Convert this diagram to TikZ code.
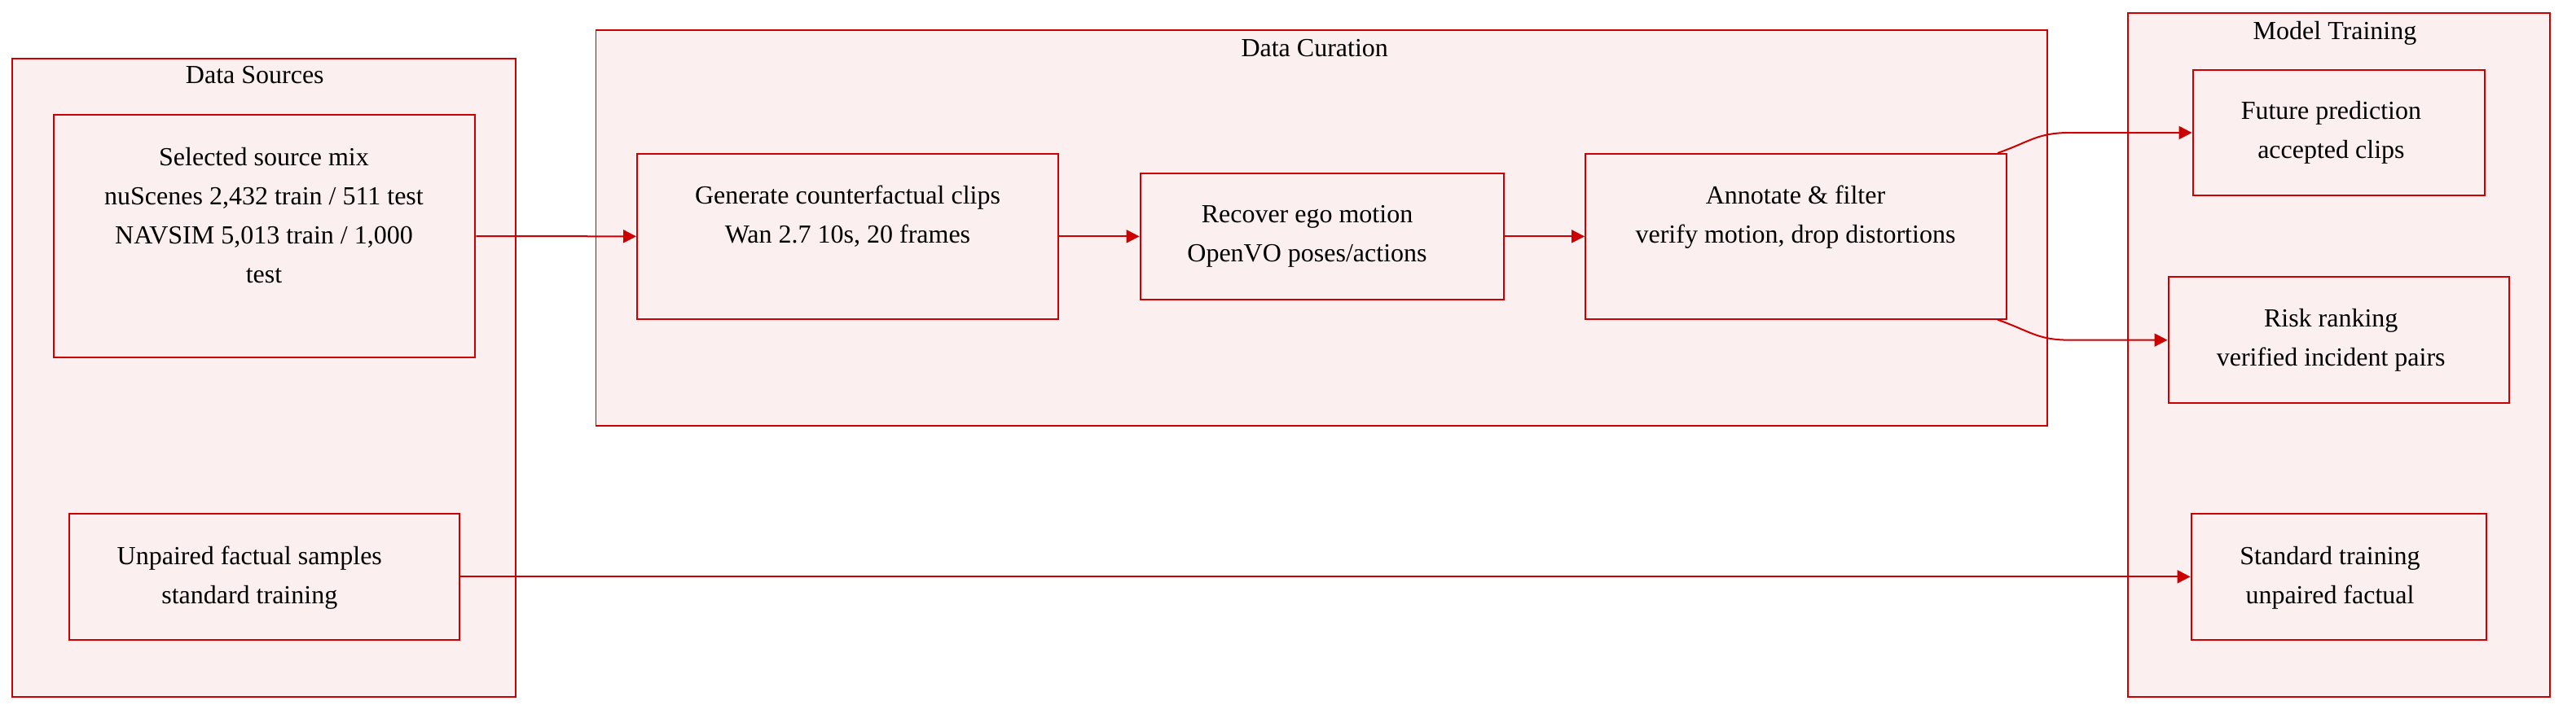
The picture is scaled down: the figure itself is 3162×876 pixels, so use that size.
\documentclass[tikz,border=0pt]{standalone}
\usepackage{fontspec}
\setmainfont{Liberation Serif}
\usetikzlibrary{arrows.meta}
\definecolor{boxred}{HTML}{CC0000}
\definecolor{boxfill}{HTML}{FCEFEF}
\tikzset{
  cluster/.style={draw=boxred, fill=boxfill, line width=1.8pt, inner sep=0pt, rectangle},
  stepbox/.style={draw=boxred, fill=boxfill, line width=2pt, inner sep=0pt, rectangle},
  txt/.style={inner sep=0pt, align=center, text=black, font=\fontsize{32}{48}\selectfont},
  edge/.style={draw=boxred, line width=2pt, -{Triangle[length=16pt,width=16pt]}},
}
\newcommand{\sline}{\strut}
\begin{document}
\begin{tikzpicture}[x=1pt,y=-1pt]
\useasboundingbox (0,0) rectangle (3162,876);
% clusters
\node[cluster, minimum width=617.7pt, minimum height=784pt] (ds) at (324.15,463.7) {};
\node[cluster, minimum width=1781.5pt, minimum height=485.4pt] (dc) at (1622.25,280) {};
\node[cluster, minimum width=518.1pt, minimum height=840pt] (mt) at (2870.95,435.7) {};
\node[txt] (dst) at (312.8,93.1) {\sline Data Sources};
\node[txt] (dct) at (1613.7,59.4) {\sline Data Curation};
\node[txt] (mtt) at (2866,38.7) {\sline Model Training};
% boxes
\node[stepbox, minimum width=517.8pt, minimum height=298.6pt] (sel) at (324.4,290) {};
\node[stepbox, minimum width=479.3pt, minimum height=155.3pt] (unp) at (324.65,708.35) {};
\node[stepbox, minimum width=516.6pt, minimum height=202.7pt] (gen) at (1040.3,290.35) {};
\node[stepbox, minimum width=446.4pt, minimum height=155.3pt] (rec) at (1622.8,290.35) {};
\node[stepbox, minimum width=516.6pt, minimum height=202.7pt] (ann) at (2204.3,290.35) {};
\node[stepbox, minimum width=358.6pt, minimum height=154.6pt] (fut) at (2870.9,163) {};
\node[stepbox, minimum width=418.4pt, minimum height=155.3pt] (risk) at (2870.7,417.65) {};
\node[stepbox, minimum width=362.7pt, minimum height=155.3pt] (std) at (2870.95,708.35) {};
% texts
\node[txt] (selt) at (324,265.4) {\sline Selected source mix\\\sline nuScenes 2,432 train / 511 test\\\sline NAVSIM 5,013 train / 1,000\\\sline test};
\node[txt] (unpt) at (306.3,707.4) {\sline Unpaired factual samples\\\sline standard training};
\node[txt] (gent) at (1040.5,264.4) {\sline Generate counterfactual clips\\\sline Wan 2.7 10s, 20 frames};
\node[txt] (rect) at (1604.5,287.4) {\sline Recover ego motion\\\sline OpenVO poses/actions};
\node[txt] (annt) at (2204,264.4) {\sline Annotate \& filter\\\sline verify motion, drop distortions};
\node[txt] (futt) at (2861.4,161.1) {\sline Future prediction\\\sline accepted clips};
\node[txt] (riskt) at (2861.2,416.1) {\sline Risk ranking\\\sline verified incident pairs};
\node[txt] (stdt) at (2860,707.4) {\sline Standard training\\\sline unpaired factual};
% connectors
\draw[edge] (sel.east) -- (gen.west);
\draw[edge] (gen.east) -- (rec.west);
\draw[edge] (rec.east) -- (ann.west);
\draw[edge] (unp.east) -- (std.west);
\coordinate (a1) at ([xshift=-11.6pt]ann.north east);
\coordinate (f1) at ([xshift=-150pt]fut.west);
\coordinate (a2) at ([xshift=-11.6pt]ann.south east);
\coordinate (r1) at ([xshift=-120pt]risk.west);
\draw[edge] (a1) .. controls ([xshift=40pt,yshift=14pt]a1) and ([xshift=-40pt]f1) .. (f1) -- (fut.west);
\draw[edge] (a2) .. controls ([xshift=40pt,yshift=-14pt]a2) and ([xshift=-40pt]r1) .. (r1) -- (risk.west);
\end{tikzpicture}
\end{document}
